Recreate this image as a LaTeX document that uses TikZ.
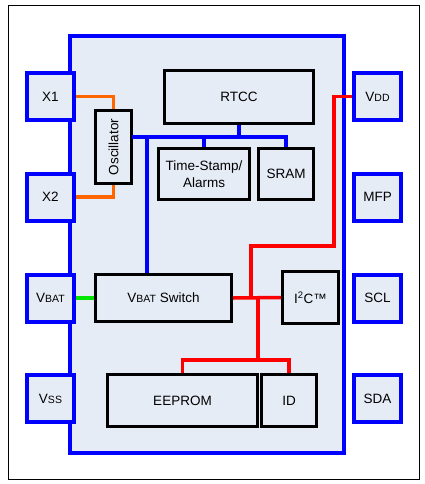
\documentclass[tikz,border=0pt]{standalone}
\usepackage{fontspec}
\setmainfont{Liberation Sans}
\definecolor{chipfill}{RGB}{230,236,246}
\definecolor{oscwire}{RGB}{255,102,0}
\definecolor{batwire}{RGB}{0,230,0}
\newcommand{\pinsc}[1]{{\fontsize{10.5}{12}\selectfont #1}}
\begin{document}
\begin{tikzpicture}[x=1pt,y=-1pt,font=\fontsize{13.5}{16.5}\selectfont,
  pin/.style={draw=blue,line width=4pt,fill=chipfill,minimum width=47pt,minimum height=47pt,inner sep=0pt},
  blk/.style={draw=black,line width=3pt,fill=chipfill,inner sep=0pt,align=center},
  bus/.style={blue,line width=4pt},
  wire/.style={line width=3.5pt}]
\useasboundingbox (0,0) rectangle (425,484);
\draw[line width=1pt] (8.5,5.5) rectangle (419.5,479.5);
\draw[blue,line width=4pt,fill=chipfill] (70,36) rectangle (344,453);
% pins
\node[pin] (x1) at (50.5,96.5) {X1};
\node[pin] (x2) at (50.5,197) {X2};
\node[pin] (vbat) at (50.5,298) {V\pinsc{BAT}};
\node[pin] (vss) at (50.5,398.5) {V\pinsc{SS}};
\node[pin] (vdd) at (377.5,96.5) {V\pinsc{DD}};
\node[pin] (mfp) at (377.5,197) {MFP};
\node[pin] (scl) at (377.5,298) {SCL};
\node[pin] (sda) at (377.5,398.5) {SDA};
% blocks
\node[blk,minimum width=36pt,minimum height=73pt] (osc) at (113.5,147) {};
\node[rotate=90] at (osc) {Oscillator};
\node[blk,minimum width=149pt,minimum height=53pt] (rtcc) at (239,97) {RTCC};
\node[blk,minimum width=91pt,minimum height=51pt] (ts) at (204,174) {Time-Stamp/\\Alarms};
\node[blk,minimum width=55pt,minimum height=51pt] (sram) at (286,174) {SRAM};
\node[blk,minimum width=136pt,minimum height=47pt] (vsw) at (163.5,298) {V\pinsc{BAT} Switch};
\node[blk,minimum width=56pt,minimum height=52pt] (i2c) at (310.5,297.5) {I\textsuperscript{2}C™};
\node[blk,minimum width=150pt,minimum height=52pt] (eeprom) at (182.5,400.5) {EEPROM};
\node[blk,minimum width=55pt,minimum height=52pt] (id) at (289,400.5) {ID};
% blue bus
\coordinate (busl) at (131.5,137);
\coordinate (vtap) at (147,137);
\draw[bus] (busl) -| (sram.north);
\draw[bus] (rtcc.south) -- (rtcc.south |- busl);
\draw[bus] (204,137) -- (204,147);
\draw[bus] (vtap) -- (vtap |- vsw.north);
% crystal and battery
\draw[wire,oscwire] (x1.east) -| (osc.north);
\draw[wire,oscwire] (x2.east) -| (osc.south);
\draw[wire,batwire] (vbat.east) -- (vsw.west);
% red supply
\coordinate (rk) at (334,246);
\coordinate (rm) at (251,298);
\coordinate (rj) at (258,360);
\draw[wire,red] (vdd.west) -| (rk) -| (rm);
\draw[wire,red] (vsw.east) -- (i2c.west);
\draw[wire,red] (rj) -- (rj |- vsw.east);
\draw[wire,red] (eeprom.north) |- (rj) -| (id.north);
\end{tikzpicture}
\end{document}
